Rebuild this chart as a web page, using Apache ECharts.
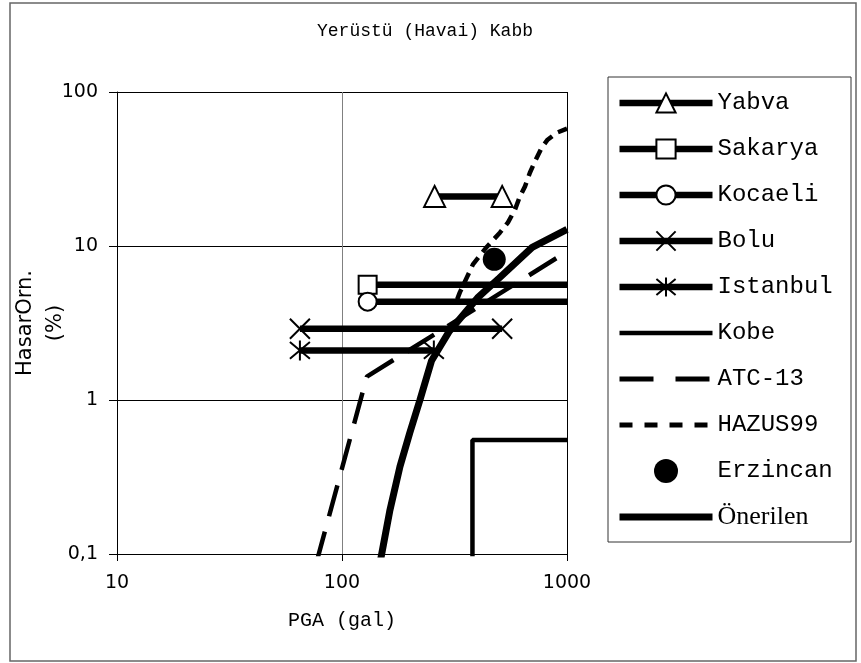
<!DOCTYPE html>
<html>
<head>
<meta charset="utf-8">
<script src="https://cdn.jsdelivr.net/npm/echarts@6/dist/echarts.min.js"></script>
<style>
  html, body { margin: 0; padding: 0; background: #fff; }
  #chart { width: 861px; height: 663px; }
</style>
</head>
<body>
<div id="chart"></div>
<script>
// --- data (PGA in gal, damage ratio in %) ---
var yabvaX = [258, 515];       var yabvaY = [21, 21];
var sakaryaX = [130, 1000];    var sakaryaY = [5.6, 5.6];
var kocaeliX = [130, 1000];    var kocaeliY = [4.35, 4.35];
var boluX = [65, 515];         var boluY = [2.9, 2.9];
var istanbulX = [65, 256];     var istanbulY = [2.1, 2.1];
var kobeX = [380, 380, 1000];  var kobeY = [0.085, 0.55, 0.55];
var atcX = [77, 129, 1000];    var atcY = [0.088, 1.42, 9.2];
var hazusX = [325, 334, 382, 441, 503, 546, 587, 617, 650, 684, 720, 771, 820, 900, 1000];
var hazusY = [4.5, 5.0, 7.6, 9.9, 12.2, 14.2, 17.2, 20.9, 24.3, 29.9, 35.3, 43.4, 49, 54.4, 57.8];
var erzincanX = [475];         var erzincanY = [8.2];
var onerilenX = [147, 163, 181, 200, 222, 250, 300, 400, 500, 700, 1000];
var onerilenY = [0.085, 0.19, 0.37, 0.61, 1.0, 1.8, 2.8, 4.6, 6.2, 9.8, 12.8];

var xTicks = [10, 100, 1000];
var yTicks = [0.1, 1, 10, 100];

var names = ['Yabva', 'Sakarya', 'Kocaeli', 'Bolu', 'Istanbul', 'Kobe', 'ATC-13', 'HAZUS99', 'Erzincan', 'Önerilen'];
// legend line thickness per entry
var legendWidths = [6.5, 6.5, 6.5, 6.5, 6.5, 4.5, 5, 5, 0, 7];

var X_PATH = 'path://M0,0L10,10M10,0L0,10';
var STAR_PATH = 'path://M0,0L10,10M10,0L0,10M5,-1L5,11';

function pts(xs, ys, hideLast) {
    var out = [];
    for (var i = 0; i < xs.length; i++) {
        var item = { value: [xs[i], ys[i]] };
        if (hideLast && i === xs.length - 1) item.symbol = 'none';
        out.push(item);
    }
    return out;
}

function markerLine(name, xs, ys, symbol, size, hideLast) {
    return {
        name: name,
        type: 'line',
        data: pts(xs, ys, hideLast),
        symbol: symbol,
        symbolSize: size,
        showAllSymbol: true,
        lineStyle: { color: '#000', width: 6.5, cap: 'butt' },
        itemStyle: { color: '#fff', borderColor: '#000', borderWidth: 2 },
        emphasis: { disabled: true },
        z: 3
    };
}

function plainLine(name, xs, ys, width, type) {
    return {
        name: name,
        type: 'line',
        data: pts(xs, ys, false),
        symbol: 'none',
        lineStyle: { color: '#000', width: width, type: type },
        itemStyle: { color: '#000' },
        emphasis: { disabled: true },
        z: 2
    };
}

var chart = echarts.init(document.getElementById('chart'), null, { renderer: 'canvas' });

var option = {
    animation: false,
    backgroundColor: '#fff',
    grid: { left: 117, right: 294, top: 92, bottom: 109, containLabel: false, outerBoundsMode: 'none' },
    legend: {
        orient: 'vertical',
        left: 616,
        top: 88,
        padding: 0,
        itemWidth: 93,
        itemHeight: 24,
        itemGap: 16,
        selectedMode: false,
        textStyle: { fontFamily: 'Liberation Mono', fontSize: 24, color: '#000', lineHeight: 30,
            rich: { s: { fontFamily: 'Liberation Serif', fontSize: 26, color: '#000', lineHeight: 30 } } },
        formatter: function (n) { return n === 'Önerilen' ? '{s|' + n + '}' : n; },
        data: names.map(function (n, i) {
            var noSym = ['Kobe', 'ATC-13', 'HAZUS99', 'Önerilen'].indexOf(n) > -1;
            var item = { name: n, lineStyle: { width: legendWidths[i] } };
            if (n === 'HAZUS99') item.lineStyle.type = [13, 12];
            if (n === 'ATC-13') item.lineStyle.type = [34, 22];
            if (noSym) item.itemStyle = { opacity: 0 };
            return item;
        })
    },
    xAxis: {
        type: 'log',
        logBase: 10,
        min: 10,
        max: 1000,
        name: 'PGA (gal)',
        nameLocation: 'middle',
        nameGap: 57,
        nameMoveOverlap: false,
        nameTextStyle: { fontFamily: 'Liberation Mono', fontSize: 20, color: '#000' },
        axisLine: { lineStyle: { color: '#000', width: 1 } },
        axisTick: { show: true, inside: false, length: 7, lineStyle: { color: '#000' } },
        minorTick: { show: false },
        axisLabel: {
            fontFamily: 'DejaVu Sans', fontSize: 19, color: '#000', margin: 20,
            formatter: function (v) { return String(Math.round(v)); }
        },
        splitLine: { show: true, lineStyle: { color: ['#000', '#808080', '#000'], width: 1 } }
    },
    yAxis: {
        type: 'log',
        logBase: 10,
        min: 0.1,
        max: 100,
        name: 'HasarOrn.\n(%)',
        nameLocation: 'middle',
        nameGap: 46,
        nameMoveOverlap: false,
        nameRotate: 90,
        nameTextStyle: { fontFamily: 'DejaVu Sans', fontSize: 21, color: '#000', lineHeight: 30, align: 'center' },
        axisLine: { show: true, lineStyle: { color: '#000', width: 1 } },
        axisTick: { show: true, inside: false, length: 8, lineStyle: { color: '#000' } },
        axisLabel: {
            fontFamily: 'DejaVu Sans', fontSize: 19, color: '#000', margin: 19,
            formatter: function (v) { return v < 0.5 ? '0,1' : String(Math.round(v)); }
        },
        splitLine: { show: true, lineStyle: { color: '#000', width: 1 } }
    },
    graphic: [
        { type: 'rect', shape: { x: 10, y: 3, width: 846, height: 658 },
          style: { fill: 'none', stroke: '#666', lineWidth: 1.5 }, silent: true, z: 0 },
        { type: 'rect', shape: { x: 608, y: 77, width: 243, height: 465 },
          style: { fill: 'none', stroke: '#333', lineWidth: 1 }, silent: true, z: 0 },
        { type: 'text', x: 425, y: 31,
          style: { text: 'Yerüstü (Havai) Kabb', font: '18px "Liberation Mono"', fill: '#000',
                   textAlign: 'center', textVerticalAlign: 'middle' }, silent: true }
    ],
    series: [
        markerLine('Yabva', yabvaX, yabvaY, 'triangle', 21, false),
        markerLine('Sakarya', sakaryaX, sakaryaY, 'rect', 18, true),
        markerLine('Kocaeli', kocaeliX, kocaeliY, 'circle', 18, true),
        markerLine('Bolu', boluX, boluY, X_PATH, 20, false),
        markerLine('Istanbul', istanbulX, istanbulY, STAR_PATH, 20, false),
        plainLine('Kobe', kobeX, kobeY, 4.5, 'solid'),
        plainLine('ATC-13', atcX, atcY, 4.5, [32, 16]),
        plainLine('HAZUS99', hazusX, hazusY, 4.5, [11, 7]),
        {
            name: 'Erzincan',
            type: 'scatter',
            data: pts(erzincanX, erzincanY, false),
            symbol: 'circle',
            symbolSize: 23,
            itemStyle: { color: '#000', opacity: 1 },
            emphasis: { disabled: true },
            z: 4
        },
        plainLine('Önerilen', onerilenX, onerilenY, 7, 'solid')
    ]
};

chart.setOption(option);
</script>
</body>
</html>
